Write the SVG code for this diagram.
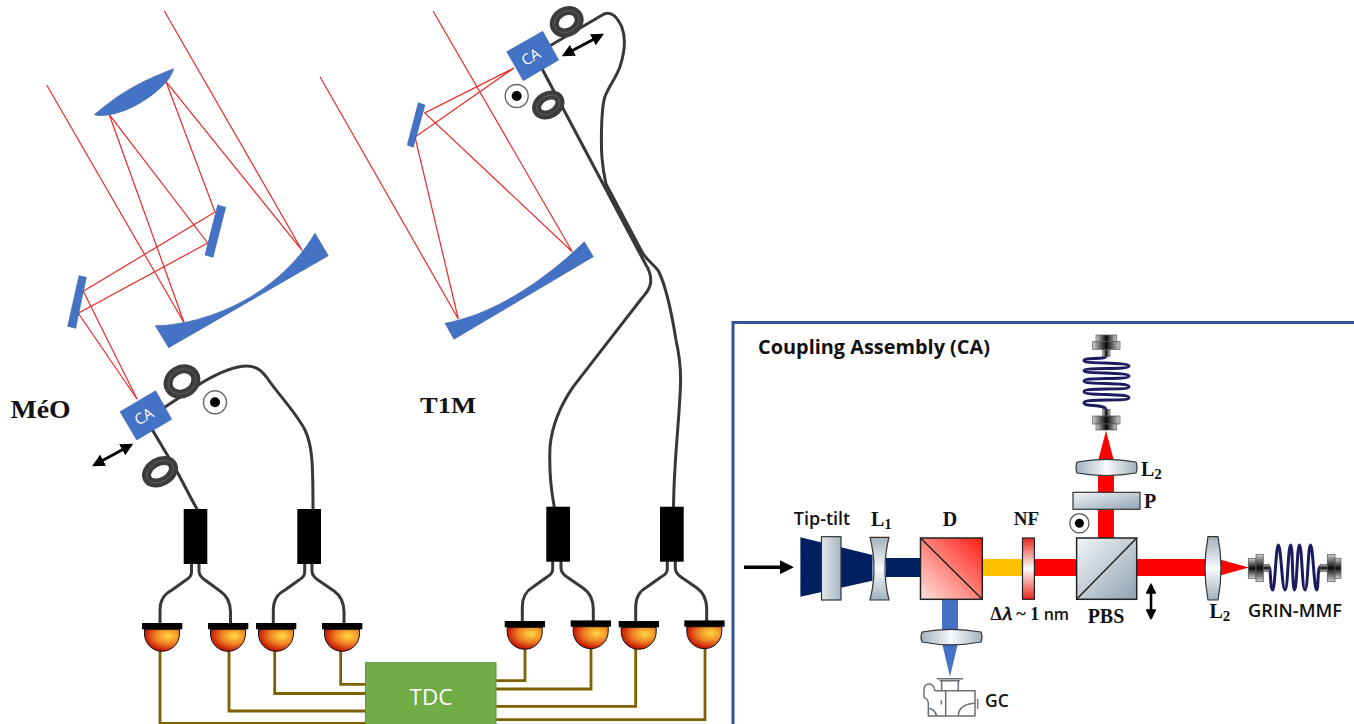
<svg xmlns="http://www.w3.org/2000/svg" width="1354" height="724" viewBox="0 0 1354 724">
<style>
.ray{fill:none;stroke:#EA2A2A;stroke-width:1.2}
.mir{fill:#4472C4;stroke:#3a62a8;stroke-width:.6}
.fib{fill:none;stroke:#383838;stroke-width:3;stroke-linecap:round;stroke-linejoin:round}
.coil{fill:none;stroke:#3c3c3c;stroke-width:9}
.coilh{fill:none;stroke:#6a6a6a;stroke-width:.7}
.wire{fill:none;stroke:#7F6000;stroke-width:2.8}
.blk{fill:#000}
.ca{fill:#4472C4;stroke:#3f68b4;stroke-width:.6}
.catx{fill:#fff;font:15px "Open Sans",sans-serif;text-anchor:middle}
.serif{font-family:"Liberation Serif",serif;font-weight:700;fill:#111}
.sans{font-family:"Open Sans",sans-serif;font-weight:600;fill:#111}
.edge{stroke:#222;stroke-width:1.5}
.pipe{fill:none;stroke:#6b6f76;stroke-width:4.5;stroke-linejoin:round;stroke-linecap:round}
.spi{fill:none;stroke:#1b1b5e;stroke-width:3}
.cn{stroke:#555;stroke-width:.7}
.cV{fill:url(#conX)}
.cH{fill:url(#conY)}
</style>
<defs>
<radialGradient id="dome" cx=".68" cy=".3" r=".75"><stop offset="0" stop-color="#FFD940"/><stop offset=".5" stop-color="#EE7F22"/><stop offset="1" stop-color="#BE0000"/></radialGradient>
<linearGradient id="lensX"><stop offset="0" stop-color="#9fb1bf"/><stop offset=".5" stop-color="#f8fafb"/><stop offset="1" stop-color="#9fb1bf"/></linearGradient>
<linearGradient id="lensY" x2="0" y2="1"><stop offset="0" stop-color="#9fb1bf"/><stop offset=".5" stop-color="#f8fafb"/><stop offset="1" stop-color="#9fb1bf"/></linearGradient>
<linearGradient id="plate" x2="1" y2="0"><stop offset="0" stop-color="#e4e9ed"/><stop offset="1" stop-color="#a5b6c3"/></linearGradient>
<linearGradient id="cube" x2="1" y2="1"><stop offset="0" stop-color="#f4f6f8"/><stop offset="1" stop-color="#8ea3b3"/></linearGradient>
<linearGradient id="dich" x1="0" y1="1" x2="1" y2="0"><stop offset="0" stop-color="#ffe3dd"/><stop offset="1" stop-color="#ff1e14"/></linearGradient>
<linearGradient id="nf" x2="0" y2="1"><stop offset="0" stop-color="#e8281e"/><stop offset=".5" stop-color="#fff"/><stop offset="1" stop-color="#e8281e"/></linearGradient>
<linearGradient id="conX"><stop offset="0" stop-color="#d0d0d0"/><stop offset=".5" stop-color="#0a0a0a"/><stop offset="1" stop-color="#d0d0d0"/></linearGradient>
<linearGradient id="conY" x2="0" y2="1"><stop offset="0" stop-color="#d0d0d0"/><stop offset=".5" stop-color="#0a0a0a"/><stop offset="1" stop-color="#d0d0d0"/></linearGradient>
<marker id="ah" viewBox="0 0 10 10" refX="8" refY="5" markerWidth="4.2" markerHeight="4.2" orient="auto-start-reverse"><path d="M0,0L10,5L0,10Z" fill="#000"/></marker>
<g id="det"><path d="M-17.5,0V4.5A17.5,17.5 0 0 0 17.5,4.5V0Z" fill="url(#dome)" stroke="#111" stroke-width="1"/><rect x="-20" y="-6.3" width="40.3" height="6.3" fill="#000"/></g>
</defs>

<g id="connectors">
<path class="wire" d="M160,651V723.3H366"/>
<path class="wire" d="M229,651V711H366"/>
<path class="wire" d="M274.7,651V693.5H366"/>
<path class="wire" d="M340.7,651V684.3H366"/>
<path class="wire" d="M525,649V680.7H495"/>
<path class="wire" d="M591,647V689H495"/>
<path class="wire" d="M635.7,649V706.3H495"/>
<path class="wire" d="M705,647V719.7H495"/>
<path class="fib" d="M191.5,564V572Q191.5,577 186,580L172,590Q160,596 160,610V624"/>
<path class="fib" d="M199,564V571Q199,576 205,580L220,591Q230.5,598 230.5,612V624"/>
<path class="fib" d="M304.7,564V572Q304.7,577 299,580L285,590Q273.3,596 273.3,610V624"/>
<path class="fib" d="M312,564V571Q312,576 318,580L334,591Q344,598 344,612V624"/>
<path class="fib" d="M552.7,561V569Q552.7,574 547,577L533,587Q522.3,593 522.3,607V622"/>
<path class="fib" d="M561,561V568Q561,573 567,577L583,588Q593.3,595 593.3,609V621"/>
<path class="fib" d="M667.3,561V569Q667.3,574 661,577L647,587Q635.7,593 635.7,607V622"/>
<path class="fib" d="M675.3,561V568Q675.3,573 681,577L697,588Q706.7,595 706.7,609V621"/>
<path class="fib" d="M165,407L203,382C222,371 235,366 247,366C258,366 264,373 270,382C280,396 296,413 305,430C312,445 313,460 313,510"/>
<path class="fib" d="M153,431L175,468C184,484 190,497 197,509"/>
<path class="fib" d="M550,45.7L604,14C612,11 617,17 621.7,26.7C625,35 626,48 620,66.7C614,82 606,90 604,100C601,115 601,145 602,158C603,170 604,175 606,184L642,252C648,262 655,265 659,272C666,287 672,315 676,340C680,358 681,372 680.5,385C679,425 674,460 673.5,507"/>
<path class="fib" d="M542.3,69.3L646,265C650,271 651,276 650.7,282C650,290 646,293 642,298C626,319 596,357 573.3,386.7C560,406 552,425 550,447C549,470 551,490 554.3,507"/>
</g>

<g id="meo-telescope">
<path class="ray" d="M46.7,85L184.3,323.3L109.3,114.7L207.7,243L78.3,313.3L137,399"/>
<path class="ray" d="M164.3,11L302.3,250.7L166,81.7L215,212L83.3,291.3L137,399"/>
<path class="mir" d="M94.3,114.7C125,88 150,78 173.7,68.7C170,82 155,94 140,103C125,112 105,118 94.3,114.7Z"/>
<path class="mir" d="M217.7,205L225.7,207.3L213,257.3L205,255Z"/>
<path class="mir" d="M79,275.7L86.3,277.3L75.7,328.3L67.7,326.3Z"/>
<path class="mir" d="M155.3,325.7C205,325 278,296 315,233.3L328.3,255.7L168.7,347.7Z"/>
</g>
<g id="t1m-telescope">
<path class="ray" d="M320,76.7L458.3,319L415,137L514,68L424.7,113L572.3,251.7L433,11"/>
<path class="mir" d="M418.3,102.7L425,105L413.3,147.3L407.3,145Z"/>
<path class="mir" d="M445,323.3C490,315 540,285 584.3,241.7L593.3,256.7L454,339.3Z"/>
</g>

<g id="meo-label"><text class="serif" x="10.5" y="418" font-size="26" textLength="60" lengthAdjust="spacingAndGlyphs">MéO</text></g>
<g id="t1m-label"><text class="serif" x="420" y="413" font-size="24" textLength="56" lengthAdjust="spacingAndGlyphs">T1M</text></g>

<g id="meo-ca">
<ellipse class="coil" cx="182" cy="381.5" rx="14.5" ry="12" transform="rotate(-30 182 381.5)"/>
<ellipse class="coilh" cx="182" cy="381.5" rx="14.5" ry="12" transform="rotate(-30 182 381.5)"/>
<ellipse class="coil" cx="160" cy="471.7" rx="14.5" ry="10" transform="rotate(-30 160 471.7)"/>
<ellipse class="coilh" cx="160" cy="471.7" rx="14.5" ry="10" transform="rotate(-30 160 471.7)"/>
<path class="ca" d="M155.7,390.7L171.7,419.3L136.7,440L120,411.7Z"/>
<text class="catx" transform="translate(146.5 421) rotate(-30)">CA</text>
<path d="M94.3,465L131,445" stroke="#000" stroke-width="3" marker-start="url(#ah)" marker-end="url(#ah)"/>
<circle cx="215" cy="402.3" r="11.5" fill="#fff" stroke="#666" stroke-width="1.4"/><circle cx="215" cy="402.3" r="5" fill="#000"/>
</g>
<g id="t1m-ca">
<ellipse class="coil" cx="566.7" cy="21.7" rx="13" ry="10.5" transform="rotate(-30 566.7 21.7)"/>
<ellipse class="coilh" cx="566.7" cy="21.7" rx="13" ry="10.5" transform="rotate(-30 566.7 21.7)"/>
<ellipse class="coil" cx="548.3" cy="105" rx="12.5" ry="9" transform="rotate(-30 548.3 105)"/>
<ellipse class="coilh" cx="548.3" cy="105" rx="12.5" ry="9" transform="rotate(-30 548.3 105)"/>
<path class="ca" d="M542.7,31.3L558.7,60L523.3,80.7L506.7,51.7Z"/>
<text class="catx" transform="translate(533.5 61.5) rotate(-30)">CA</text>
<path d="M564,55L601.7,35" stroke="#000" stroke-width="3" marker-start="url(#ah)" marker-end="url(#ah)"/>
<circle cx="516.7" cy="96" r="11.5" fill="#fff" stroke="#666" stroke-width="1.4"/><circle cx="516.7" cy="96" r="5" fill="#000"/>
</g>

<g id="splitters">
<rect class="blk" x="183.7" y="509" width="23.6" height="55"/>
<rect class="blk" x="297.3" y="509" width="23.7" height="55"/>
<rect class="blk" x="546.3" y="506.7" width="23.7" height="55"/>
<rect class="blk" x="660" y="506.7" width="23.7" height="55"/>
</g>
<g id="detectors">
<use href="#det" x="162" y="629.3"/>
<use href="#det" x="228" y="629.3"/>
<use href="#det" x="276" y="629.3"/>
<use href="#det" x="342" y="629.3"/>
<use href="#det" x="524.7" y="627.3"/>
<use href="#det" x="590.7" y="626.7"/>
<use href="#det" x="638.7" y="627.3"/>
<use href="#det" x="704.3" y="626.7"/>
</g>
<g id="tdc">
<rect x="365.5" y="662.7" width="130.5" height="63" fill="#70AD47" stroke="#5f9140" stroke-width="1"/>
<text x="431" y="705" font-family="Open Sans, sans-serif" font-size="22.5" fill="#fff" text-anchor="middle">TDC</text>
</g>

<g id="coupling-assembly">
<path d="M733,724V322.5H1354" fill="none" stroke="#2F5597" stroke-width="3"/>
<text class="sans" x="758" y="354" font-size="19.5" style="font-weight:700" textLength="232" lengthAdjust="spacingAndGlyphs">Coupling Assembly (CA)</text>
<path d="M744,567.3H791" stroke="#000" stroke-width="3.4" marker-end="url(#ah)"/>
<path d="M800.4,537.3L872.5,555V580.7L800.4,596.7Z" fill="#002060"/>
<rect x="886" y="558" width="36" height="19" fill="#002060"/>
<rect x="982" y="559" width="42" height="17" fill="#FFC000"/>
<rect x="1032" y="559" width="46" height="17" fill="#FF0000"/>
<rect x="1135" y="559" width="73" height="17" fill="#FF0000"/>
<path d="M1218,559L1249,567.5L1218,576Z" fill="#FF0000"/>
<rect x="1098" y="473" width="16" height="66" fill="#FF0000"/>
<path d="M1098,461L1106,430.7L1114,461Z" fill="#FF0000"/>
<rect x="942" y="598" width="16" height="33" fill="#4472C4"/>
<path d="M942,643L950,676.7L958,643Z" fill="#4472C4"/>
<rect x="821.5" y="536.7" width="19.5" height="63.3" fill="url(#plate)" stroke="#333" stroke-width="1.2"/>
<path d="M870,537.3H889Q881,568.5 889,600H870Q878,568.5 870,537.3Z" fill="url(#lensY)" stroke="#333" stroke-width="1.2"/>
<g id="dichroic"><rect class="edge" x="920.5" y="538" width="61.8" height="61.3" fill="url(#dich)"/><path class="edge" d="M920.5,538L982.3,599.3" fill="none"/></g>
<rect x="1022.5" y="538" width="11.9" height="61.3" fill="url(#nf)" stroke="#222" stroke-width="1.2"/>
<g id="pbs"><rect class="edge" x="1076.6" y="538" width="60.1" height="61.3" fill="url(#cube)"/><path class="edge" d="M1076.6,599.3L1136.7,538" fill="none"/></g>
<path d="M1208,536.7H1218Q1224,568 1218,600H1208Q1202,568 1208,536.7Z" fill="url(#lensY)" stroke="#333" stroke-width="1.2"/>
<rect x="1073" y="492.3" width="67" height="17" fill="url(#cube)" stroke="#333" stroke-width="1.2"/>
<path d="M1077,462Q1106,456.6 1136,462Q1138,467 1136,473Q1106,478 1077,473Q1075,467 1077,462Z" fill="url(#lensX)" stroke="#333" stroke-width="1.2"/>
<path d="M922,632Q951,626.6 981,632Q983,637 981,642Q951,647.6 922,642Q920,637 922,632Z" fill="url(#lensX)" stroke="#333" stroke-width="1.2"/>
<circle cx="1079.4" cy="523.3" r="9.6" fill="#fff" stroke="#555" stroke-width="1.3"/><circle cx="1079.4" cy="523.3" r="4.5" fill="#000"/>
<path d="M1151,585V618" stroke="#000" stroke-width="2.6" marker-start="url(#ah)" marker-end="url(#ah)"/>

<g id="top-fiber">
<path class="spi" d="M1106,356C1106,360 1084,357 1084,360.7C1084,364 1129,362 1129,366C1129,370 1084,367 1084,370.7C1084,374 1129,372 1129,376C1129,380 1084,377 1084,381C1084,385 1129,382 1129,386.7C1129,391 1084,387 1084,391.7C1084,396 1129,393 1129,397.7C1129,402 1084,398 1084,402.7C1084,407 1106,404 1106,410"/>
<rect class="cn cV" x="1102.7" y="349.3" width="7.3" height="7"/>
<rect class="cn cV" x="1092.7" y="341.7" width="27.3" height="7.6"/>
<rect class="cn cV" x="1096" y="335" width="20.7" height="6.7"/>
<rect class="cn cV" x="1102.7" y="409.3" width="7.3" height="6.7"/>
<rect class="cn cV" x="1092.7" y="416" width="27.3" height="8"/>
<rect class="cn cV" x="1096" y="424" width="20.7" height="6"/>
</g>
<g id="right-fiber">
<path class="spi" d="M1269,567C1271,567 1270,590 1272.7,590C1275,590 1276,545 1278.3,545C1281,545 1282,590 1285,590C1288,590 1288,545 1290.7,545C1293,545 1292,590 1294.5,590C1297,590 1297,545 1299.5,545C1302,545 1302,590 1305,590C1308,590 1308,545 1310.5,545C1313,545 1314,590 1316.7,590C1318.5,590 1317.5,567 1320,567"/>
<rect class="cn cH" x="1248.3" y="558.3" width="7.7" height="20"/>
<rect class="cn cH" x="1256" y="554.3" width="7.3" height="27.4"/>
<rect class="cn cH" x="1263.3" y="564.3" width="6" height="7.4"/>
<rect class="cn cH" x="1320" y="564.3" width="7.3" height="7.4"/>
<rect class="cn cH" x="1327.3" y="554.3" width="7.7" height="27.4"/>
<rect class="cn cH" x="1335" y="558.3" width="6" height="20"/>
</g>
<g id="camera" transform="translate(900 640) scale(.3333)">
<path class="pipe" d="M112,116H188M120,122H178M125,122V152M175,122V152"/>
<path class="pipe" d="M125,152H105Q100,132 88,132Q72,132 72,150V172Q85,178 85,190V228H225V152H175M125,152H175M137,152V228M175,228Q175,195 222,190M85,205Q105,208 110,228M124,183V192"/>
<path class="pipe" d="M233,178V208" stroke-dasharray="3 3"/>
</g>
<text class="sans" x="822" y="525" font-size="18" text-anchor="middle">Tip-tilt</text>
<text class="serif" x="871" y="526" font-size="20">L<tspan font-size="15" dy="3">1</tspan></text>
<text class="serif" x="950" y="526" font-size="20" text-anchor="middle">D</text>
<text class="serif" x="1026.5" y="525" font-size="19" text-anchor="middle">NF</text>
<text class="serif" x="990.5" y="620" font-size="18">Δ𝜆 ~ 1 <tspan class="sans" font-size="16">nm</tspan></text>
<text class="serif" x="1106" y="623" font-size="20" text-anchor="middle">PBS</text>
<text class="serif" x="1209.5" y="618" font-size="20">L<tspan font-size="15" dy="3">2</tspan></text>
<text class="sans" x="1248" y="617" font-size="18" textLength="94" lengthAdjust="spacingAndGlyphs">GRIN-MMF</text>
<text class="sans" x="985" y="707" font-size="17.5">GC</text>
<text class="serif" x="1141" y="476" font-size="20">L<tspan font-size="15" dy="3">2</tspan></text>
<text class="serif" x="1144" y="508" font-size="20">P</text>
</g>
</svg>
